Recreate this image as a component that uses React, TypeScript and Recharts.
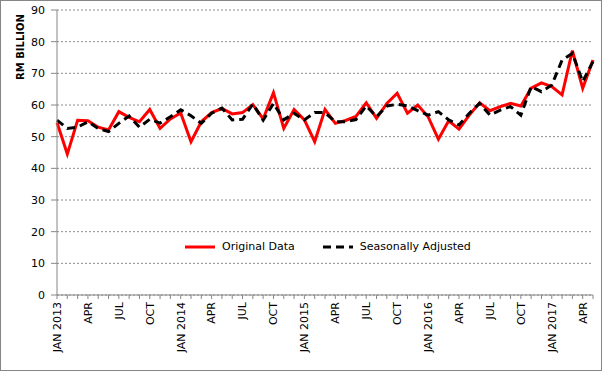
import { CartesianGrid, Legend, Line, LineChart, XAxis, YAxis } from 'recharts'

const months = [
  'JAN 2013', 'FEB', 'MAR', 'APR', 'MAY', 'JUN', 'JUL', 'AUG', 'SEP', 'OCT', 'NOV', 'DEC',
  'JAN 2014', 'FEB', 'MAR', 'APR', 'MAY', 'JUN', 'JUL', 'AUG', 'SEP', 'OCT', 'NOV', 'DEC',
  'JAN 2015', 'FEB', 'MAR', 'APR', 'MAY', 'JUN', 'JUL', 'AUG', 'SEP', 'OCT', 'NOV', 'DEC',
  'JAN 2016', 'FEB', 'MAR', 'APR', 'MAY', 'JUN', 'JUL', 'AUG', 'SEP', 'OCT', 'NOV', 'DEC',
  'JAN 2017', 'FEB', 'MAR', 'APR', 'MAY',
]

const originalData = [
  54.5, 44.5, 55.2, 55.0, 53.0, 52.1, 57.9, 56.1, 54.7, 58.6, 52.6, 55.6,
  57.5, 48.4, 54.7, 57.6, 58.9, 57.2, 57.6, 60.1, 55.6, 63.9, 52.6, 58.6,
  55.3, 48.4, 58.6, 54.2, 55.1, 56.4, 60.7, 55.8, 60.5, 63.7, 57.4, 60.0,
  56.3, 49.2, 55.0, 52.4, 56.8, 60.7, 58.2, 59.5, 60.5, 59.7, 65.3, 67.0,
  65.8, 63.2, 77.2, 65.3, 74.2,
]

const seasonallyAdjusted = [
  55.2, 52.6, 53.0, 54.7, 52.6, 51.6, 54.2, 56.5, 53.0, 55.5, 54.3, 56.3,
  58.5, 56.6, 54.2, 57.4, 59.0, 55.3, 55.5, 60.3, 55.2, 60.5, 55.3, 57.4,
  55.3, 57.6, 57.6, 54.7, 54.7, 55.4, 59.7, 56.3, 59.7, 60.2, 59.7, 58.2,
  56.8, 57.9, 55.3, 53.7, 57.4, 60.5, 56.8, 58.4, 59.5, 56.8, 65.8, 64.2,
  66.3, 74.2, 76.3, 67.4, 73.7,
]

const yTicks = [0, 10, 20, 30, 40, 50, 60, 70, 80, 90]

const data = months.map((month, i) => ({
  month,
  original: originalData[i],
  adjusted: seasonallyAdjusted[i],
}))

const FONT = '"DejaVu Sans", Verdana, sans-serif'
const AXIS = '#868686'

function MonthTick(props: any) {
  const { x, y, payload, index } = props
  const i = payload?.index ?? index
  if (i % 3 !== 0) return <g />
  return (
    <text
      x={x}
      y={y}
      dy="0.35em"
      transform={`rotate(-90, ${x}, ${y})`}
      textAnchor="end"
      fontSize={11}
      fontFamily={FONT}
      fill="#000"
    >
      {payload.value}
    </text>
  )
}

function LegendBox() {
  return (
    <div style={{ display: 'flex', alignItems: 'center', fontFamily: FONT, fontSize: 11, color: '#000' }}>
      <svg width={32} height={8}>
        <line x1={1} y1={4} x2={31} y2={4} stroke="#ff0000" strokeWidth={3} />
      </svg>
      <span style={{ marginLeft: 6, marginRight: 27 }}>Original Data</span>
      <svg width={32} height={8}>
        <line x1={1} y1={4} x2={31} y2={4} stroke="#000" strokeWidth={3} strokeDasharray="8 5" />
      </svg>
      <span style={{ marginLeft: 6 }}>Seasonally Adjusted</span>
    </div>
  )
}

export default function App() {
  return (
    <div
      style={{
        position: 'absolute',
        left: 0,
        top: 0,
        width: 602,
        height: 371,
        boxSizing: 'border-box',
        border: `1px solid ${AXIS}`,
        background: '#fff',
      }}
    >
      <LineChart width={600} height={369} data={data} margin={{ top: 9, right: 8, left: 0, bottom: 0 }}>
        <CartesianGrid vertical={false} stroke="#8c8c8c" strokeDasharray="2 2" />
        <XAxis
          dataKey="month"
          interval={0}
          height={75}
          tick={<MonthTick />}
          tickSize={4}
          tickMargin={3}
          axisLine={{ stroke: AXIS }}
          tickLine={{ stroke: AXIS }}
        />
        <YAxis
          width={56}
          domain={[0, 90]}
          ticks={yTicks}
          tickSize={6}
          tickMargin={6}
          axisLine={{ stroke: AXIS }}
          tickLine={{ stroke: AXIS }}
          tick={{ fill: '#000', fontSize: 11, fontFamily: FONT }}
          label={{
            content: () => (
              <text
                x={19}
                y={46}
                transform="rotate(-90, 19, 46)"
                textAnchor="middle"
                dy="0.35em"
                fontSize={10}
                fontWeight="bold"
                fontFamily={FONT}
                fill="#000"
              >
                RM BILLION
              </text>
            ),
          }}
        />
        <Legend
          layout="horizontal"
          verticalAlign="middle"
          align="center"
          content={<LegendBox />}
          wrapperStyle={{ position: 'absolute', left: 183, top: 239, width: 'auto' }}
        />
        <Line
          type="linear"
          dataKey="original"
          name="Original Data"
          stroke="#ff0000"
          strokeWidth={3}
          dot={false}
          isAnimationActive={false}
        />
        <Line
          type="linear"
          dataKey="adjusted"
          name="Seasonally Adjusted"
          stroke="#000"
          strokeWidth={3}
          strokeDasharray="8 5"
          dot={false}
          isAnimationActive={false}
        />
      </LineChart>
    </div>
  )
}
